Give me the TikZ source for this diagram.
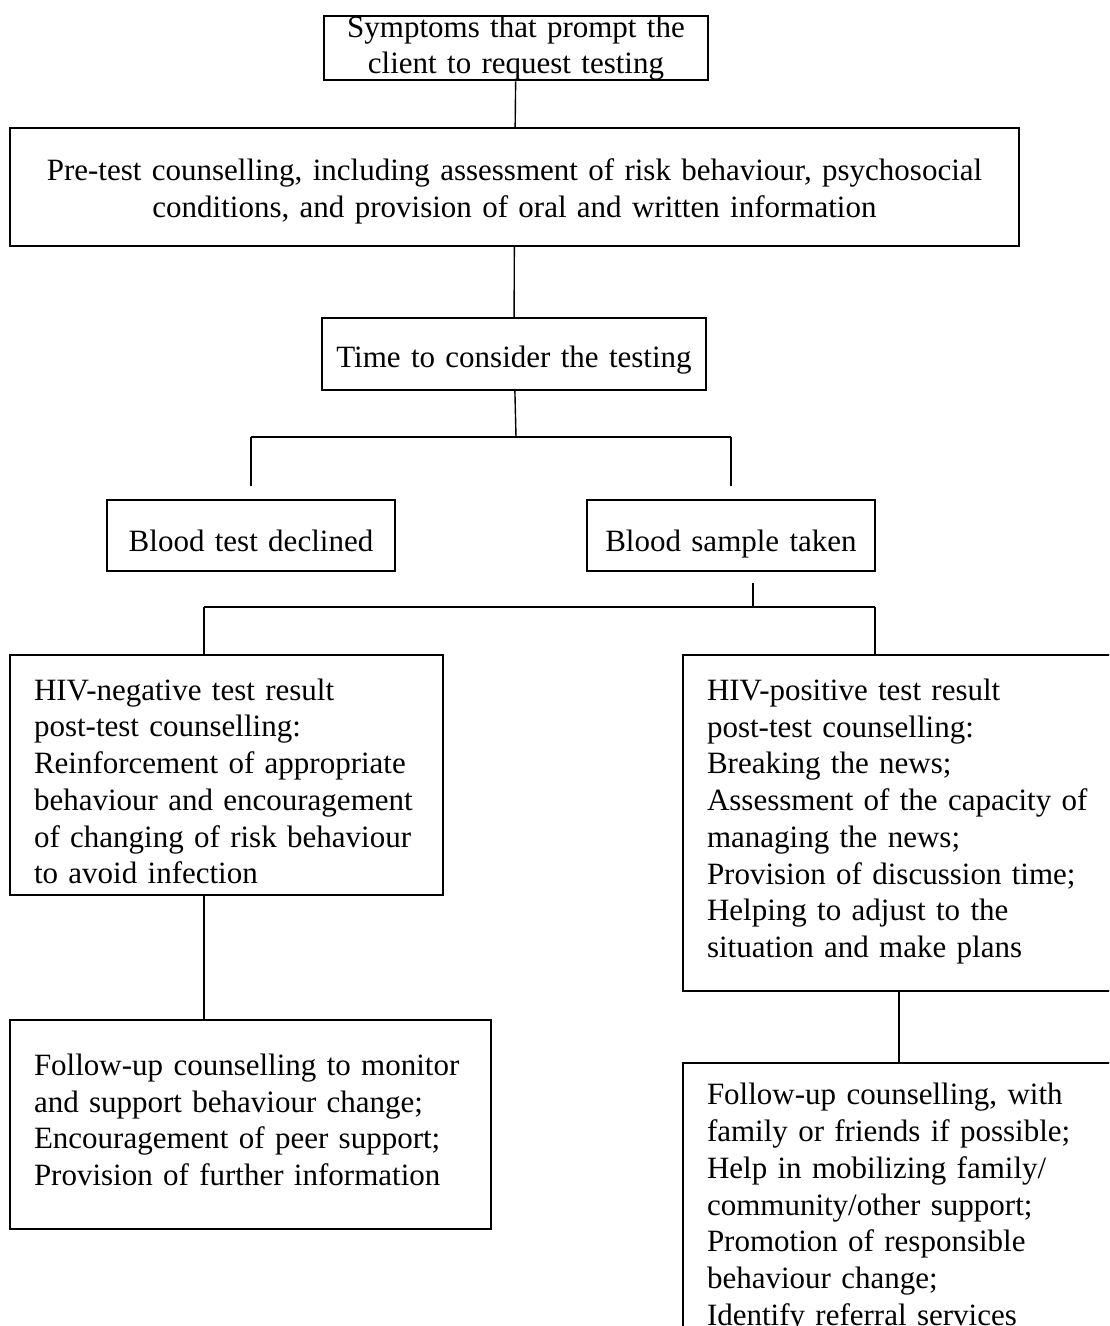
\documentclass[tikz,border=0pt]{standalone}
\usepackage{fontspec}
\setmainfont{Liberation Serif}
\begin{document}
\begin{tikzpicture}[x=0.5pt,y=-0.5pt,
  box/.style={draw,line width=1pt,inner sep=0pt,font=\fontsize{15.5}{18.35}\selectfont},
  mid/.style={box,align=center},
  strutted/.style 2 args={execute at begin node={\rule{0pt}{#1}},execute at end node={\rule[-#2]{0pt}{#2}}},
  side/.style={box,align=left,inner xsep=12pt},
  link/.style={line width=0.7pt}]
\useasboundingbox (0,0) rectangle (1109,1326);
\clip (0,0) rectangle (1109,1326);
   \node[mid,minimum width=192pt,minimum height=32pt,text width=190pt] at (516,48) (sym) {Symptoms that prompt the\\client to request testing};
   \node[mid,strutted={16pt}{4pt},minimum width=504.5pt,minimum height=59pt,text width=500pt] at (514.5,187) (pre) {Pre-test counselling, including assessment of risk behaviour, psychosocial\\conditions, and provision of oral and written information};
   \node[mid,strutted={17pt}{4pt},minimum width=192pt,minimum height=36pt,text width=190pt] at (514,354) (time) {Time to consider the testing};
   \node[mid,strutted={20pt}{4pt},minimum width=144pt,minimum height=35.5pt,text width=140pt] at (251,535.5) (declined) {Blood test declined};
   \node[mid,strutted={20pt}{4pt},minimum width=144pt,minimum height=35.5pt,text width=140pt] at (731,535.5) (sample) {Blood sample taken};
   \node[side,strutted={21pt}{4pt},minimum height=120pt,text width=192.5pt] at (226.5,775) (neg) {HIV-negative test result\\post-test counselling:\\Reinforcement of appropriate\\behaviour and encouragement\\of changing of risk behaviour\\to avoid infection};
   \node[side,strutted={16pt}{10pt},minimum height=168pt,text width=192pt] at (899,823) (pos) {HIV-positive test result\\post-test counselling:\\Breaking the news;\\Assessment of the capacity of\\managing the news;\\Provision of discussion time;\\Helping to adjust to the\\situation and make plans};
   \node[side,strutted={16pt}{10pt},minimum height=104.5pt,text width=216.5pt] at (250.5,1124.5) (negfollow) {Follow-up counselling to monitor\\and support behaviour change;\\Encouragement of peer support;\\Provision of further information};
   \node[side,strutted={16pt}{4pt},anchor=north,minimum height=140pt,text width=192pt] at (899,1062) (posfollow) {Follow-up counselling, with\\family or friends if possible;\\Help in mobilizing family/\\community/other support;\\Promotion of responsible\\behaviour change;\\Identify referral services};
   \coordinate (fork1) at (516,437);
   \coordinate (fork2) at (753,607);
   \coordinate (fork2l) at (204,607);
   \coordinate (fork2r) at (875,607);
    \draw[link] (sym) -- (pre);
    \draw[link] (pre) -- (time);
    \draw[link] (time) -- (fork1);
    \draw[link] (declined.north |- fork1) -- (sample.north |- fork1);
    \draw[link,shorten >=6.5pt] (declined.north |- fork1) -- (declined.north);
    \draw[link,shorten >=6.5pt] (sample.north |- fork1) -- (sample.north);
    \draw[link,shorten <=5.5pt] (sample.south -| fork2) -- (fork2);
    \draw[link] (fork2l) -- (fork2r);
    \draw[link] (fork2l) -- (fork2l |- neg.north);
    \draw[link] (fork2r) -- (fork2r |- pos.north);
   \draw[link] (neg.south -| fork2l) -- (negfollow.north -| fork2l);
   \draw[link] (pos) -- (posfollow);
    \end{tikzpicture}
\end{document}
